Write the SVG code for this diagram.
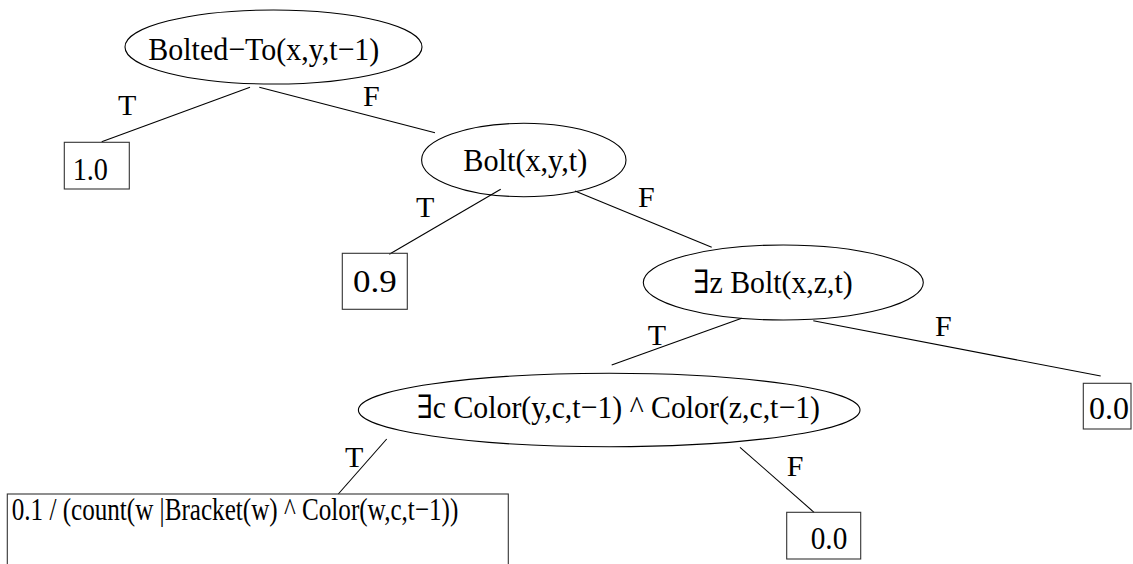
<svg xmlns="http://www.w3.org/2000/svg" width="1133" height="564" viewBox="0 0 1133 564">
<style>
.n{fill:none;stroke:#000;stroke-width:1.1}
.b{fill:none;stroke:#333;stroke-width:1.1}
.c{stroke:#000;stroke-width:1.1;fill:none}
text{font-family:"Liberation Serif","DejaVu Serif",serif;fill:#000}
.t{font-size:32px}
.l{font-size:30px}
</style>
<rect width="1133" height="564" fill="#fff"/>
<g id="connectors">
<line class="c" x1="250" y1="87.3" x2="101.7" y2="141.7"/>
<line class="c" x1="259.3" y1="87.3" x2="435" y2="132.7"/>
<line class="c" x1="500.7" y1="189.3" x2="389.3" y2="254.3"/>
<line class="c" x1="575" y1="191" x2="711.7" y2="247.3"/>
<line class="c" x1="741.7" y1="318.3" x2="611.7" y2="365"/>
<line class="c" x1="813.3" y1="320.7" x2="1100.7" y2="376"/>
<line class="c" x1="386.7" y1="439" x2="338.3" y2="494"/>
<line class="c" x1="740" y1="447.3" x2="814" y2="512.3"/>
<text class="l" x="118" y="115">T</text>
<text class="l" x="363" y="106">F</text>
<text class="l" x="416" y="216.7">T</text>
<text class="l" x="638" y="207.3">F</text>
<text class="l" x="647.7" y="345">T</text>
<text class="l" x="935" y="336">F</text>
<text class="l" x="345" y="466.7">T</text>
<text class="l" x="786.7" y="475.5">F</text>
</g>
<g id="n1">
<ellipse class="n" cx="273.5" cy="47" rx="148.5" ry="37"/>
<text class="t" x="148.3" y="60" textLength="231" lengthAdjust="spacingAndGlyphs">Bolted−To(x,y,t−1)</text>
</g>
<g id="n2">
<rect class="b" x="64.3" y="142.3" width="65" height="46.7"/>
<text class="t" x="72.7" y="180" textLength="35.3" lengthAdjust="spacingAndGlyphs">1.0</text>
</g>
<g id="n3">
<ellipse class="n" cx="523.8" cy="160" rx="102.2" ry="36.7"/>
<text class="t" x="463.3" y="170.7" textLength="124" lengthAdjust="spacingAndGlyphs">Bolt(x,y,t)</text>
</g>
<g id="n4">
<rect class="b" x="342.3" y="253.3" width="65" height="56"/>
<text class="t" x="353" y="291.7" textLength="43.7" lengthAdjust="spacingAndGlyphs">0.9</text>
</g>
<g id="n5">
<ellipse class="n" cx="783.3" cy="282.5" rx="140" ry="37.5"/>
<text class="t" x="693.3" y="293.3" textLength="159.4" lengthAdjust="spacingAndGlyphs">∃z Bolt(x,z,t)</text>
</g>
<g id="n6">
<ellipse class="n" cx="609.2" cy="410" rx="250.8" ry="36.7"/>
<text class="t" x="416.7" y="418.3" textLength="403.3" lengthAdjust="spacingAndGlyphs">∃c Color(y,c,t−1) ^ Color(z,c,t−1)</text>
</g>
<g id="n7">
<rect class="b" x="1083.3" y="383.3" width="47.7" height="45.7"/>
<text class="t" x="1089" y="419.3" textLength="40" lengthAdjust="spacingAndGlyphs">0.0</text>
</g>
<g id="n8">
<rect class="b" x="7.3" y="494" width="501" height="80"/>
<text class="t" x="11.7" y="520" textLength="446.6" lengthAdjust="spacingAndGlyphs">0.1 / (count(w |Bracket(w) ^ Color(w,c,t−1))</text>
</g>
<g id="n9">
<rect class="b" x="786.7" y="512.3" width="74" height="46.7"/>
<text class="t" x="810.7" y="549.3" textLength="36.6" lengthAdjust="spacingAndGlyphs">0.0</text>
</g>
</svg>
